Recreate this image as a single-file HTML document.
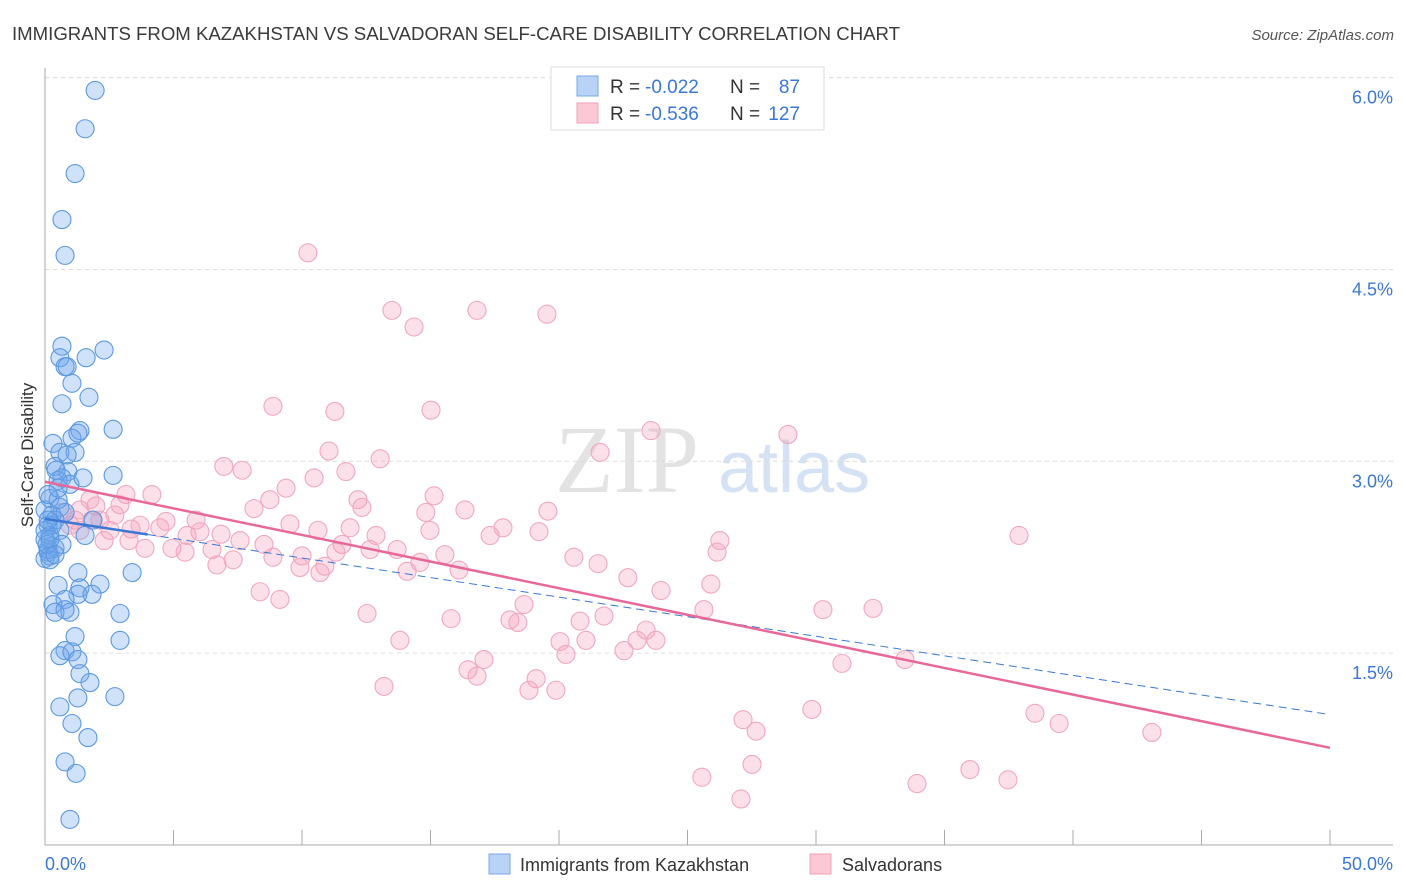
<!DOCTYPE html>
<html><head><meta charset="utf-8"><style>
body{margin:0;background:#fff;font-family:"Liberation Sans",sans-serif}
</style></head><body>
<svg id="chart" width="1406" height="892" xmlns="http://www.w3.org/2000/svg" style="display:block">
<text x="12" y="40" font-size="18" fill="#3a3a3a" textLength="888" lengthAdjust="spacingAndGlyphs">IMMIGRANTS FROM KAZAKHSTAN VS SALVADORAN SELF-CARE DISABILITY CORRELATION CHART</text>
<text x="1394" y="40" font-size="15" fill="#555" text-anchor="end" font-style="italic">Source: ZipAtlas.com</text>
<text x="555" y="492" font-size="96" fill="#d8d8d8" font-family="Liberation Serif" opacity="0.7">ZIP</text>
<text x="718" y="492" font-size="72" fill="#b8d0ee" opacity="0.6">atlas</text>
<g id="grid"></g>
<g id="axes"></g>
<g id="pts"></g>
<g id="trend"></g>
<g>
<rect x="551" y="67" width="273" height="63" fill="#fff" stroke="#ddd"/>
<rect x="577" y="76" width="21" height="20" fill="#b8d3f5" stroke="#7aaae8"/>
<rect x="577" y="103" width="21" height="20" fill="#fbc8d6" stroke="#f0a0b8"/>
<text x="610" y="93" font-size="19" fill="#333">R =</text>
<text x="645" y="93" font-size="19" fill="#3a78d4">-0.022</text>
<text x="730" y="93" font-size="19" fill="#333">N =</text>
<text x="800" y="93" font-size="19" fill="#3a78d4" text-anchor="end">87</text>
<text x="610" y="120" font-size="19" fill="#333">R =</text>
<text x="645" y="120" font-size="19" fill="#3a78d4">-0.536</text>
<text x="730" y="120" font-size="19" fill="#333">N =</text>
<text x="800" y="120" font-size="19" fill="#3a78d4" text-anchor="end">127</text>
</g>
<g>
<rect x="489" y="854" width="21" height="20" fill="#b8d3f5" stroke="#7aaae8"/>
<text x="520" y="871" font-size="18" fill="#333">Immigrants from Kazakhstan</text>
<rect x="810" y="854" width="21" height="20" fill="#fbc8d6" stroke="#f0a0b8"/>
<text x="842" y="871" font-size="18" fill="#333">Salvadorans</text>
</g>
<text transform="translate(33,455) rotate(-90)" font-size="17" fill="#333" text-anchor="middle">Self-Care Disability</text>
</svg>
<script>
const blueX=[1.95,1.56,1.17,0.66,0.78,2.30,0.66,0.58,1.60,0.78,0.86,1.05,1.71,0.66,2.65,1.36,0.31,1.05,1.28,0.58,1.17,2.65,0.39,0.89,0.66,0.51,0.97,0.19,0.58,0.0,0.27,0.78,1.87,0.39,0.12,0.58,0.19,1.56,0.0,0.39,0.12,0.19,0.0,3.39,1.28,0.51,2.14,1.36,1.28,1.83,0.78,0.31,0.97,2.92,0.39,0.78,1.17,2.92,0.78,0.58,1.05,1.28,1.36,1.75,2.72,1.28,0.58,1.05,1.67,0.78,1.21,0.97,0.12,0.19,0.08,0.27,0.51,0.0,0.12,0.43,0.86,1.48,0.51,0.19,0.12,0.66,0.39];
const blueY=[5.90,5.60,5.25,4.89,4.61,3.87,3.90,3.81,3.81,3.74,3.74,3.61,3.50,3.45,3.25,3.24,3.14,3.18,3.22,3.07,3.07,2.89,2.96,2.92,2.87,2.85,2.82,2.71,2.64,2.62,2.58,2.60,2.54,2.54,2.50,2.46,2.42,2.42,2.39,2.32,2.29,2.26,2.24,2.13,2.13,2.03,2.04,2.01,1.96,1.96,1.92,1.88,1.82,1.81,1.82,1.84,1.63,1.60,1.52,1.48,1.51,1.45,1.34,1.27,1.16,1.15,1.08,0.95,0.84,0.65,0.56,0.20,2.31,2.23,2.35,2.50,2.70,2.46,2.74,2.93,3.05,2.87,2.79,2.39,2.54,2.35,2.27];
const pinkX=[10.23,13.50,16.81,19.53,14.36,8.87,11.28,15.02,23.58,28.91,11.05,13.04,21.60,6.96,7.67,11.71,9.38,10.47,15.14,12.18,12.33,16.34,19.57,14.82,3.15,4.16,2.92,1.98,1.83,1.17,1.36,0.66,0.97,2.53,3.35,4.47,5.88,4.71,6.03,5.53,6.85,8.13,8.75,9.53,10.62,11.56,11.32,11.87,12.65,12.88,13.70,14.59,14.09,15.56,16.11,17.32,17.82,19.22,20.58,21.52,22.68,23.97,26.26,26.15,25.91,37.90,2.30,3.89,4.94,5.45,6.50,6.69,7.32,8.52,10.00,9.92,10.89,8.37,9.14,10.70,12.53,15.80,18.09,18.64,18.40,20.82,21.75,25.64,30.27,32.22,13.81,20.04,21.05,20.27,22.53,23.39,23.77,23.04,16.46,16.81,17.08,19.11,18.83,19.88,13.19,31.01,33.46,27.16,27.67,29.84,38.52,39.46,43.07,27.51,25.56,27.08,33.93,35.99,37.47,3.27,3.70,1.36,2.14,1.75,2.72,7.59,8.87,14.98];
const pinkY=[4.63,4.18,4.18,4.15,4.05,3.43,3.39,3.40,3.24,3.21,3.08,3.02,3.07,2.96,2.93,2.92,2.79,2.87,2.73,2.70,2.64,2.62,2.61,2.60,2.74,2.74,2.66,2.65,2.54,2.54,2.62,2.60,2.50,2.46,2.47,2.48,2.54,2.53,2.45,2.42,2.43,2.63,2.70,2.51,2.46,2.35,2.29,2.48,2.31,2.42,2.31,2.21,2.14,2.27,2.15,2.42,2.48,2.45,2.25,2.20,2.09,1.99,2.38,2.29,2.04,2.42,2.38,2.32,2.32,2.29,2.31,2.19,2.23,2.35,2.26,2.17,2.18,1.98,1.92,2.13,1.81,1.77,1.76,1.88,1.74,1.75,1.79,1.84,1.84,1.85,1.60,1.59,1.60,1.49,1.52,1.68,1.60,1.60,1.37,1.32,1.45,1.30,1.21,1.21,1.24,1.42,1.45,0.98,0.89,1.06,1.03,0.95,0.88,0.63,0.53,0.36,0.48,0.59,0.51,2.38,2.50,2.46,2.54,2.70,2.58,2.38,2.25,2.46];
const yTicks=[1.5,3.0,4.5,6.0];
const yTickLabels=["1.5%","3.0%","4.5%","6.0%"];
const xTicks=[0,5,10,15,20,25,30,35,40,45,50];
const blueTrend=[2.55,1.02]; // y at x=0 and x=50
const pinkTrend=[2.84,0.76];
const NS='http://www.w3.org/2000/svg';
const X=v=>45+v*25.7, Y=v=>845-v*127.9;
function mk(tag,attrs,parent){const e=document.createElementNS(NS,tag);for(const k in attrs)e.setAttribute(k,attrs[k]);parent.appendChild(e);return e;}
const grid=document.getElementById('grid'),axes=document.getElementById('axes'),pts=document.getElementById('pts'),tr=document.getElementById('trend');
yTicks.forEach((t,i)=>{
 const l=mk('line',{x1:45,x2:1393,y1:Y(t),y2:Y(t),stroke:'#dcdcdc','stroke-dasharray':'4,4'},grid);
 
 
 const tx=mk('text',{x:1393,y:Y(t)+26,'font-size':18,fill:'#3a78d4','text-anchor':'end'},axes);
 tx.textContent=yTickLabels[i];
 
 
});
mk('line',{x1:45,x2:45,y1:68,y2:845,stroke:'#aaa'},axes);
mk('line',{x1:45,x2:1393,y1:845,y2:845,stroke:'#aaa'},axes);
xTicks.forEach(t=>{const l=mk('line',{x1:X(t),x2:X(t),y1:830,y2:845,stroke:'#aaa'},axes);
 
 });
const x0=mk('text',{x:45,y:870,'font-size':18,fill:'#3a78d4'},axes);x0.textContent='0.0%';


const x1=mk('text',{x:1393,y:870,'font-size':18,fill:'#3a78d4','text-anchor':'end'},axes);x1.textContent='50.0%';


pinkX.forEach((v,i)=>{const c=mk('circle',{cx:X(v),cy:Y(pinkY[i]),r:9,fill:'rgba(245,160,188,0.32)',stroke:'#f0a8bf','stroke-width':1.1},pts);
 
 });
blueX.forEach((v,i)=>{const c=mk('circle',{cx:X(v),cy:Y(blueY[i]),r:9,fill:'rgba(110,165,235,0.32)',stroke:'#5c98e0','stroke-width':1.1},pts);
 
 });
const bAt=x=>blueTrend[0]+(blueTrend[1]-blueTrend[0])*x/50;
const bl1=mk('line',{x1:X(0),y1:Y(bAt(0)),x2:X(4),y2:Y(bAt(4)),stroke:'#3a78d4','stroke-width':2.5},tr);


const bl2=mk('line',{x1:X(4),y1:Y(bAt(4)),x2:X(50),y2:Y(bAt(50)),stroke:'#3a78d4','stroke-width':1,'stroke-dasharray':'8,5'},tr);


const pl=mk('line',{x1:X(0),y1:Y(pinkTrend[0]),x2:X(50),y2:Y(pinkTrend[1]),stroke:'#e8689a','stroke-width':2.5},tr);


</script>
</body></html>
